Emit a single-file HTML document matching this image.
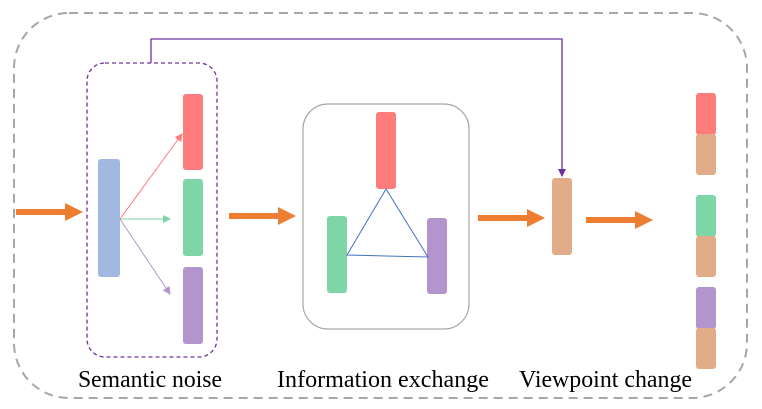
<!DOCTYPE html>
<html><head><style>
html,body{margin:0;padding:0;background:#fff;}
svg{display:block;}
text{font-family:"Liberation Serif",serif;font-size:24px;fill:#000;}
</style></head><body>
<svg width="762" height="409" viewBox="0 0 762 409">
<defs>
<marker id="mr" markerWidth="8" markerHeight="8" refX="7" refY="4" orient="auto" markerUnits="userSpaceOnUse"><path d="M0,0 L8,4 L0,8 z" fill="#ff7c7c"/></marker>
<marker id="mg" markerWidth="8" markerHeight="8" refX="7" refY="4" orient="auto" markerUnits="userSpaceOnUse"><path d="M0,0 L8,4 L0,8 z" fill="#7ed6a6"/></marker>
<marker id="mp" markerWidth="8" markerHeight="8" refX="7" refY="4" orient="auto" markerUnits="userSpaceOnUse"><path d="M0,0 L8,4 L0,8 z" fill="#b494cc"/></marker>
<marker id="mv" markerWidth="8" markerHeight="8" refX="7" refY="4" orient="auto" markerUnits="userSpaceOnUse"><path d="M0,0 L8,4 L0,8 z" fill="#7030a0"/></marker>
</defs>
<rect x="14" y="13" width="733" height="385" rx="55" fill="none" stroke="#a6a6a6" stroke-width="2" stroke-dasharray="9,6"/>
<rect x="87" y="63" width="130" height="294" rx="18" fill="none" stroke="#7030a0" stroke-width="1.3" stroke-dasharray="4,3"/>
<polyline points="151,63 151,39 562,39 562,176" fill="none" stroke="#7030a0" stroke-width="1.3" marker-end="url(#mv)"/>
<rect x="98" y="159" width="22" height="118" rx="3" fill="#a1b8e0"/>
<rect x="183" y="94" width="20" height="76" rx="3" fill="#ff7c7c"/>
<rect x="183" y="179" width="20" height="77" rx="3" fill="#7ed6a6"/>
<rect x="183" y="267" width="20" height="77" rx="3" fill="#b494cc"/>
<line x1="120" y1="219" x2="182" y2="134" stroke="#ff7c7c" marker-end="url(#mr)"/>
<line x1="120" y1="219" x2="170" y2="219" stroke="#7ed6a6" marker-end="url(#mg)"/>
<line x1="120" y1="219" x2="170" y2="294" stroke="#b494cc" marker-end="url(#mp)"/>
<g fill="#ed7d31">
<path d="M16,209 L65,209 L65,203 L83,212 L65,221 L65,215 L16,215 z"/>
<path d="M229,213 L278,213 L278,207 L296,216 L278,225 L278,219 L229,219 z"/>
<path d="M478,215 L527,215 L527,209 L545,218 L527,227 L527,221 L478,221 z"/>
<path d="M586,217 L635,217 L635,211 L653,220 L635,229 L635,223 L586,223 z"/>
</g>
<rect x="303" y="104" width="166" height="225" rx="25" fill="none" stroke="#a6a6a6" stroke-width="1.2"/>
<rect x="376" y="112" width="20" height="77" rx="3" fill="#ff7c7c"/>
<rect x="327" y="216" width="20" height="77" rx="3" fill="#7ed6a6"/>
<rect x="427" y="218" width="20" height="76" rx="3" fill="#b494cc"/>
<polygon points="386,189 347,255 428,257" fill="none" stroke="#4472c4" stroke-width="1"/>
<rect x="552" y="178" width="20" height="77" rx="3" fill="#e2ac88"/>
<rect x="696" y="93" width="20" height="42" rx="3" fill="#ff7c7c"/>
<rect x="696" y="134" width="20" height="41" rx="3" fill="#e2ac88"/>
<rect x="696" y="195" width="20" height="42" rx="3" fill="#7ed6a6"/>
<rect x="696" y="236" width="20" height="41" rx="3" fill="#e2ac88"/>
<rect x="696" y="287" width="20" height="42" rx="3" fill="#b494cc"/>
<rect x="696" y="328" width="20" height="41" rx="3" fill="#e2ac88"/>
<text x="78" y="387" textLength="144" lengthAdjust="spacingAndGlyphs">Semantic noise</text>
<text x="277" y="387" textLength="212" lengthAdjust="spacingAndGlyphs">Information exchange</text>
<text x="519" y="387" textLength="173" lengthAdjust="spacingAndGlyphs">Viewpoint change</text>
</svg>
</body></html>
